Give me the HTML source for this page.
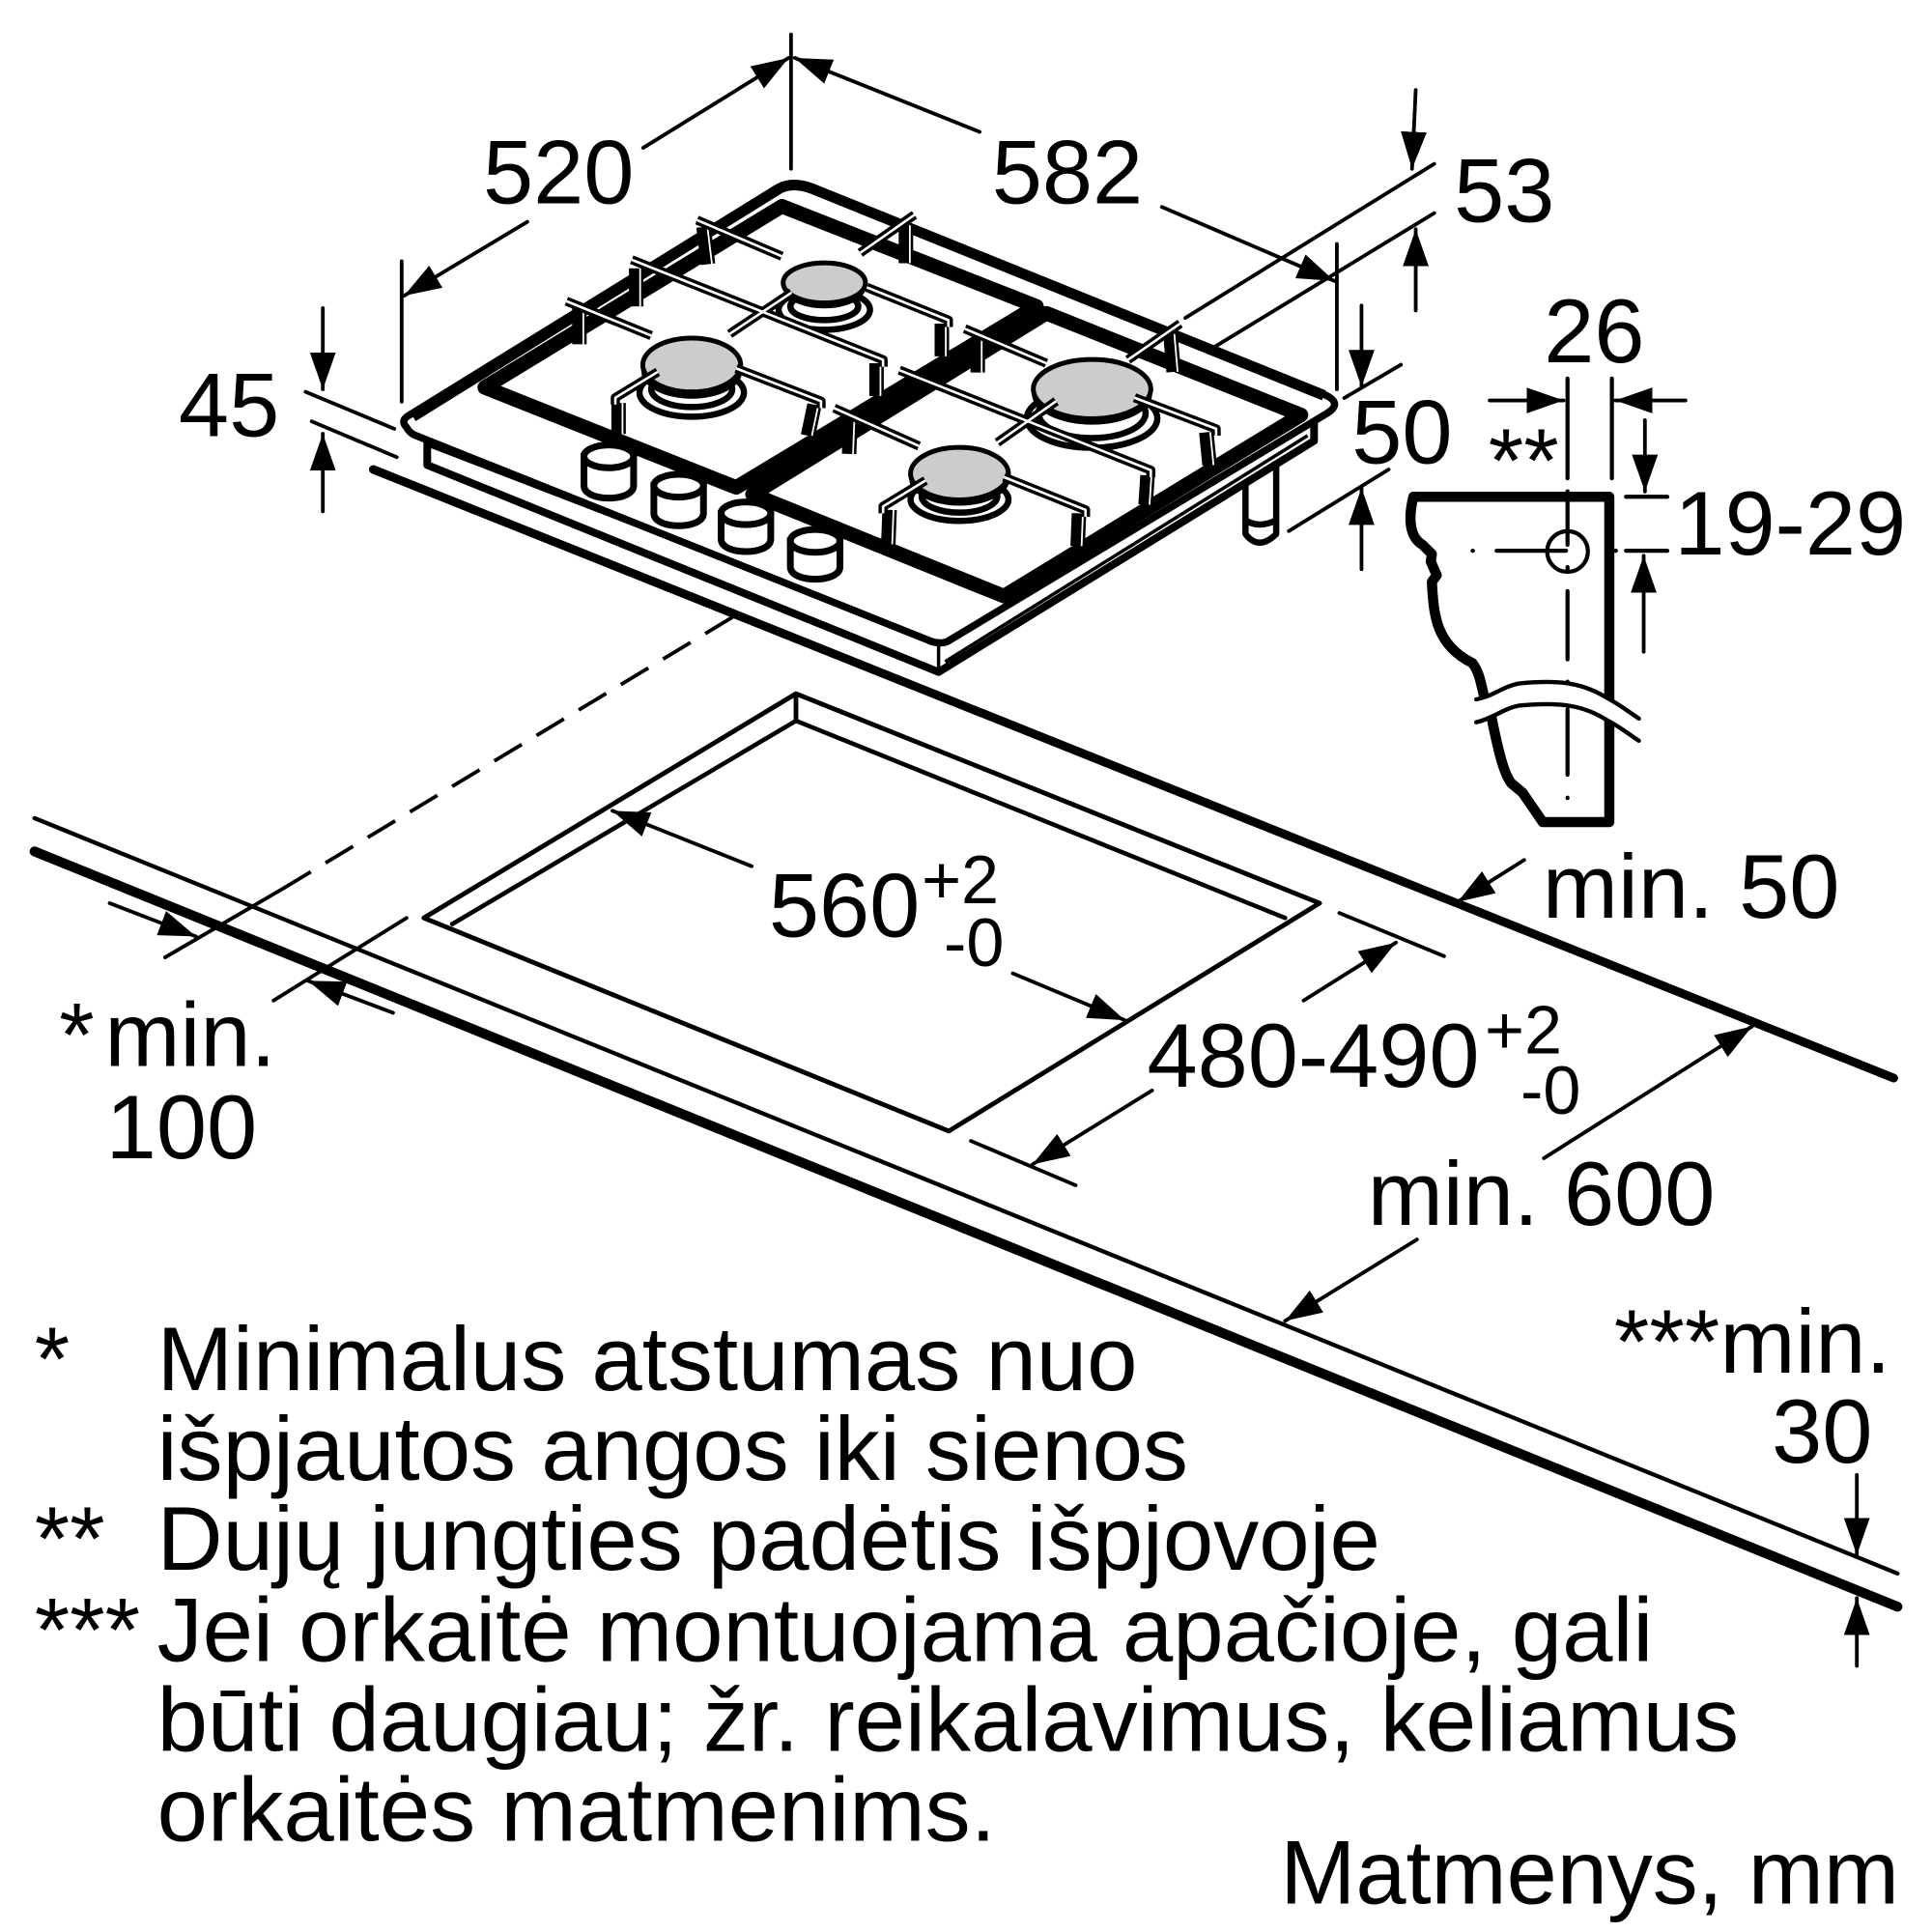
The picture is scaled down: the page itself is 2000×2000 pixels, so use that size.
<!DOCTYPE html>
<html><head><meta charset="utf-8"><style>
html,body{margin:0;padding:0;background:#fff}
svg{display:block}
text{font-family:"Liberation Sans",Arial,sans-serif;fill:#000}
.n *,defs path{vector-effect:non-scaling-stroke}
.d line,.d path{fill:none;stroke:#000;stroke-width:3;stroke-linecap:round}
</style></head><body>
<svg xmlns="http://www.w3.org/2000/svg" width="2000" height="2000" viewBox="0 0 1568 1568">
<defs>
<marker id="a" markerUnits="userSpaceOnUse" markerWidth="32" markerHeight="22" refX="30" refY="10.5" orient="auto"><path d="M0,0L30,10.5L0,21Z" fill="#000"/></marker>
<path id="bars" vector-effect="non-scaling-stroke" d="M505,190L635,295M838,175L755,285M765,385L890,480L890,500M650,400L555,520M405,305L790,595L790,615M565,620L695,715L695,735M445,630L380,705L380,725M305,425L435,525M1175,705L1300,795L1300,815M1055,715L965,835M815,625L1200,915L1200,935M915,505L1040,605M1245,490L1165,595M975,935L1100,1030L1100,1050M855,945L790,1020L790,1040M715,735L845,845"/>
<path id="legs" vector-effect="non-scaling-stroke" d="M515,210L522,318M825,205L825,315M880,490L880,585M412,330L412,440M780,605L780,700M325,440L325,550M685,725L675,815M385,720L385,810M935,530L935,632M1230,520L1235,630M1285,805L1290,900M740,770L738,868M1195,930L1192,1015M1090,1040L1088,1135M800,1030L798,1130"/>
</defs>
<rect width="1568" height="1568" fill="#fff"/>

<!-- counter edges -->
<g fill="none" stroke="#000" stroke-linecap="round">
<line x1="303" y1="381" x2="1537" y2="875" stroke-width="7"/>
<line x1="28" y1="664" x2="1540" y2="1277" stroke-width="3.4"/>
<line x1="28" y1="691" x2="1540" y2="1304" stroke-width="8"/>
<path d="M367,750L646,585L1043,745" stroke-width="3.6" stroke-linejoin="round"/>
<path d="M646,563V585M344,745L646,563L1071,733L770,918Z" stroke-width="3.8" stroke-linejoin="round"/>
<line x1="134" y1="777" x2="230" y2="721" stroke-width="3"/>
<line x1="230" y1="721" x2="596" y2="500" stroke-width="3" stroke-dasharray="26 14" stroke-linecap="butt"/>
</g>

<!-- hob -->
<g class="n" transform="translate(298 125.4) scale(.53 .28)">
<g fill="#fff" stroke="#000" stroke-linejoin="round">
<path d="M1345,900V1100Q1365,1150 1392,1100V900" stroke-width="6.5"/>
<path d="M1345,1060Q1365,1085 1392,1060" fill="none" stroke-width="6.5"/>
<path d="M92,835V900L875,1500L1450,830V760L880,1410Z" stroke-width="8"/>
<path d="M875,1420V1500M885,1470L1440,815" fill="none" stroke-width="3.5"/>
<path d="M60,790Q50,770 65,755L625,100Q650,75 680,95L1465,695Q1495,720 1470,750L890,1410Q880,1420 865,1412L75,815Q65,808 60,790Z" stroke-width="7.5"/>
<path d="M70,760L630,100Q650,78 680,98L1465,698" fill="none" stroke-width="11"/>
<path d="M180,675L635,150L1025,440L565,965Z" fill="none" stroke-width="15"/>
<path d="M590,985L1040,460L1430,755L975,1280Z" fill="none" stroke-width="15"/>
</g>
<!-- knobs -->
<g fill="#fff" stroke="#000" stroke-width="7">
<path d="M332,875V960C332,1008 408,1008 408,960V875Z"/><ellipse cx="370" cy="875" rx="38" ry="33"/>
<path d="M439,960V1040C439,1088 515,1088 515,1040V960Z"/><ellipse cx="477" cy="960" rx="38" ry="33"/>
<path d="M542,1040V1115C542,1163 618,1163 618,1115V1040Z"/><ellipse cx="580" cy="1040" rx="38" ry="33"/>
<path d="M648,1120V1195C648,1243 724,1243 724,1195V1120Z"/><ellipse cx="686" cy="1120" rx="38" ry="33"/>
</g>
<!-- burners -->
<g fill="#fff" stroke="#000" stroke-width="6.5">
<ellipse cx="700" cy="450" rx="70" ry="58"/><ellipse cx="700" cy="440" rx="52" ry="40"/>
<ellipse cx="497" cy="690" rx="80" ry="70"/><ellipse cx="497" cy="680" rx="62" ry="52"/>
<ellipse cx="1110" cy="765" rx="100" ry="85"/><ellipse cx="1110" cy="750" rx="82" ry="72"/>
<ellipse cx="907" cy="1000" rx="75" ry="62"/><ellipse cx="907" cy="990" rx="58" ry="48"/>
</g>
<g fill="#000">
<ellipse cx="700" cy="386" rx="63" ry="60"/><ellipse cx="497" cy="630" rx="77" ry="78"/>
<ellipse cx="1110" cy="695" rx="92" ry="88"/><ellipse cx="907" cy="940" rx="77" ry="78"/>
</g>
<g fill="#ccc" stroke="#000" stroke-width="5">
<ellipse cx="700" cy="372" rx="63" ry="58"/><ellipse cx="497" cy="610" rx="75" ry="78"/>
<ellipse cx="1110" cy="680" rx="90" ry="86"/><ellipse cx="907" cy="925" rx="75" ry="76"/>
</g>
<!-- legs and bars -->
<use href="#legs" fill="none" stroke="#000" stroke-width="15"/>
<use href="#legs" transform="translate(6 0)" fill="none" stroke="#fff" stroke-width="1.8"/>
<use href="#bars" fill="none" stroke="#000" stroke-width="9.5" stroke-linejoin="round"/>
<use href="#bars" fill="none" stroke="#fff" stroke-width="2.6" stroke-linejoin="round"/>
</g>

<!-- side profile -->
<g class="n" transform="translate(1097.6 235.2) scale(.3)">
<g fill="none" stroke="#000" stroke-linejoin="round" stroke-linecap="round">
<path d="M355,1095C345,1050 340,1030 325,1010C225,960 220,880 215,790L228,772L212,735L215,715L190,690C155,670 150,620 165,560H695V1440H515L460,1360L430,1335C410,1310 395,1250 375,1150" stroke-width="10.5"/>
<path d="M335,1108C380,1100 410,1072 450,1065C550,1055 620,1060 690,1105C720,1120 745,1140 775,1160L775,1220C745,1200 720,1180 690,1165C620,1120 550,1115 450,1125C410,1132 380,1160 335,1170Z" fill="#fff" stroke="none"/>
<path d="M335,1108C380,1100 410,1072 450,1065C550,1055 620,1060 690,1105C720,1120 745,1140 775,1160M335,1170C380,1160 410,1132 450,1125C550,1115 620,1120 690,1165C720,1180 745,1200 775,1220" stroke-width="4.4"/>
<path d="M582,240V510M582,545V690M582,750V755M582,815V1000M582,1060V1061M582,1135V1312M582,1374V1375M702,240V510M325,706H326M390,706H578M712,706H713M740,560H852M740,706H852" stroke-width="4.2"/>
<circle cx="582" cy="708" r="55" stroke-width="4.2"/>
</g>
</g>

<!-- dimension lines -->
<g class="d">
<line x1="642" y1="28" x2="642" y2="137"/>
<line x1="522" y1="120" x2="640" y2="47" marker-end="url(#a)"/>
<line x1="428" y1="180" x2="328" y2="240" marker-end="url(#a)"/>
<line x1="326" y1="212" x2="326" y2="326"/>
<line x1="795" y1="107" x2="645" y2="47" marker-end="url(#a)"/>
<line x1="943" y1="168" x2="1083" y2="228" marker-end="url(#a)"/>
<line x1="1085" y1="198" x2="1085" y2="316"/>
<line x1="962" y1="258" x2="1164" y2="133"/>
<line x1="985" y1="282" x2="1164" y2="173"/>
<line x1="1149" y1="73" x2="1146" y2="137" marker-end="url(#a)"/>
<line x1="1149" y1="252" x2="1149" y2="186" marker-end="url(#a)"/>
<line x1="1091" y1="323" x2="1137" y2="296"/>
<line x1="1046" y1="431" x2="1127" y2="381"/>
<line x1="1105" y1="248" x2="1105" y2="314" marker-end="url(#a)"/>
<line x1="1105" y1="462" x2="1105" y2="396" marker-end="url(#a)"/>
<line x1="248" y1="318" x2="320" y2="348"/>
<line x1="253" y1="342" x2="322" y2="371"/>
<line x1="262" y1="250" x2="262" y2="316" marker-end="url(#a)"/>
<line x1="262" y1="415" x2="262" y2="352" marker-end="url(#a)"/>
<line x1="1209" y1="325" x2="1269" y2="325" marker-end="url(#a)"/>
<line x1="1368" y1="325" x2="1311" y2="325" marker-end="url(#a)"/>
<line x1="1335" y1="341" x2="1335" y2="399" marker-end="url(#a)"/>
<line x1="1334" y1="529" x2="1334" y2="451" marker-end="url(#a)"/>
<line x1="89" y1="733" x2="159" y2="760" marker-end="url(#a)"/>
<line x1="319" y1="822" x2="250" y2="796" marker-end="url(#a)"/>
<line x1="330" y1="745" x2="222" y2="812"/>
<line x1="610" y1="703" x2="497" y2="658" marker-end="url(#a)"/>
<line x1="822" y1="790" x2="913" y2="828" marker-end="url(#a)"/>
<line x1="1058" y1="812" x2="1133" y2="765" marker-end="url(#a)"/>
<line x1="935" y1="885" x2="838" y2="945" marker-end="url(#a)"/>
<line x1="1087" y1="741" x2="1172" y2="776"/>
<line x1="788" y1="926" x2="873" y2="962"/>
<line x1="1237" y1="698" x2="1183" y2="732" marker-end="url(#a)"/>
<line x1="1253" y1="940" x2="1422" y2="833" marker-end="url(#a)"/>
<line x1="1150" y1="1006" x2="1043" y2="1072" marker-end="url(#a)"/>
<line x1="1507" y1="1197" x2="1507" y2="1262" marker-end="url(#a)"/>
<line x1="1507" y1="1352" x2="1507" y2="1297" marker-end="url(#a)"/>
</g>

<!-- labels -->
<g font-size="73.5">
<text x="392" y="165">520</text>
<text x="805" y="165">582</text>
<text x="1180" y="180">53</text>
<text x="145" y="354">45</text>
<text x="1097" y="376">50</text>
<text x="1253" y="294">26</text>
<text x="1208" y="399">**</text>
<text x="1359" y="450">19-29</text>
<text x="1252" y="745">min. 50</text>
<text x="624" y="760">560</text>
<text x="931" y="882">480-490</text>
<text x="48" y="865">*</text>
<text x="85" y="865">min.</text>
<text x="86" y="940">100</text>
<text x="1110" y="994">min. 600</text>
<text x="1310" y="1114">***min.</text>
<text x="1438" y="1187">30</text>
<text x="28" y="1128">*</text>
<text x="127.5" y="1128" font-size="73.8">Minimalus atstumas nuo</text>
<text x="127.5" y="1201" font-size="73.8">išpjautos angos iki sienos</text>
<text x="28" y="1274">**</text>
<text x="127.5" y="1274" font-size="73.8">Dujų jungties padėtis išpjovoje</text>
<text x="28" y="1348">***</text>
<text x="127.5" y="1348" font-size="73.8">Jei orkaitė montuojama apačioje, gali</text>
<text x="127.5" y="1421" font-size="73.8">būti daugiau; žr. reikalavimus, keliamus</text>
<text x="127.5" y="1494" font-size="73.8">orkaitės matmenims.</text>
<text x="1039" y="1545">Matmenys, mm</text>
</g>
<g font-size="55">
<text x="748" y="733">+2</text>
<text x="766" y="784">-0</text>
<text x="1205" y="855">+2</text>
<text x="1234" y="904">-0</text>
</g>
</svg>
</body></html>
